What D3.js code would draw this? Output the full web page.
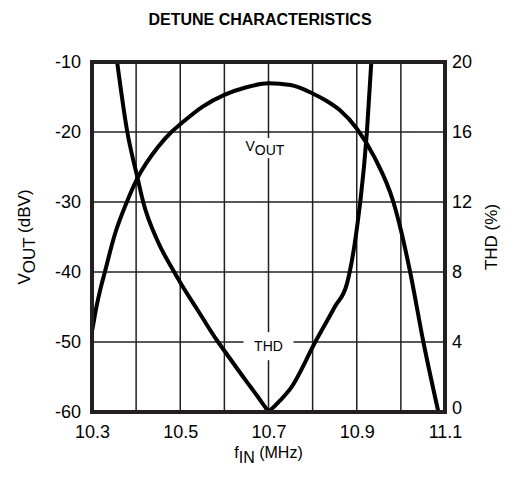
<!DOCTYPE html>
<html>
<head>
<meta charset="utf-8">
<script src="https://cdn.jsdelivr.net/npm/d3@7"></script>
<style>
  body { margin: 0; background: #fff; }
  svg { display: block; font-family: "Liberation Sans", Arial, sans-serif; }
</style>
</head>
<body>
<div id="chart"></div>
<script>
// tick labels / grid
const freqTicks = [10.3, 10.5, 10.7, 10.9, 11.1];
const freqGrid = [10.3, 10.4, 10.5, 10.6, 10.7, 10.8, 10.9, 11.0, 11.1];
const voutTicks = [-10, -20, -30, -40, -50, -60];
const thdTicks = [20, 16, 12, 8, 4, 0];

// VOUT curve (dBV)
const voutFreq = [10.300, 10.310, 10.320, 10.330, 10.350, 10.379, 10.403, 10.450, 10.480, 10.500, 10.550, 10.600,
                  10.650, 10.700, 10.750, 10.800, 10.830, 10.862, 10.900, 10.940, 10.983, 11.000, 11.021, 11.051, 11.085];
const voutDbv = [-48.5, -45.0, -42.2, -39.8, -35.0, -30.0, -26.6, -22.1, -20.0, -18.9, -16.4, -14.7,
                 -13.6, -13.05, -13.3, -14.5, -15.5, -16.9, -19.5, -23.6, -30.0, -34.0, -40.0, -50.0, -60.0];

// THD curve (%)
const thdFreq = [10.357, 10.380, 10.403, 10.416, 10.450, 10.484, 10.500, 10.540, 10.583, 10.600, 10.650, 10.675,
                 10.692, 10.700, 10.708, 10.726, 10.750, 10.806, 10.850, 10.878, 10.884, 10.894, 10.904, 10.908,
                 10.923, 10.933];
const thdPct = [20, 16, 13.4, 12, 9.7, 8.1, 7.4, 5.8, 4.1, 3.5, 1.75, 0.9,
                0.3, 0.05, 0.2, 0.65, 1.35, 4, 6.0, 7.35, 8, 9.4, 11.2, 12,
                16, 20];

const margin = {top: 62, right: 75, bottom: 72, left: 92};
const width = 520 - margin.left - margin.right;
const height = 484 - margin.top - margin.bottom;
const ink = "#231f20";

const svg = d3.select("#chart")
    .append("svg")
    .attr("width", 520)
    .attr("height", 484);

const g = svg.append("g")
    .attr("transform", "translate(" + margin.left + "," + margin.top + ")");

const x = d3.scaleLinear().domain([10.3, 11.1]).range([0, width]);
const y1 = d3.scaleLinear().domain([-60, -10]).range([height, 0]);
const y2 = d3.scaleLinear().domain([0, 20]).range([height, 0]);

// title
svg.append("text")
    .attr("x", 260)
    .attr("y", 25)
    .attr("text-anchor", "middle")
    .style("font-size", "16px")
    .style("font-weight", "bold")
    .text("DETUNE CHARACTERISTICS");

// grid
g.selectAll(".vgrid")
    .data(freqGrid)
    .enter().append("line")
    .attr("x1", d => x(d)).attr("x2", d => x(d))
    .attr("y1", 0).attr("y2", height)
    .attr("stroke", ink).attr("stroke-width", 1.5);

g.selectAll(".hgrid")
    .data(voutTicks)
    .enter().append("line")
    .attr("x1", 0).attr("x2", width)
    .attr("y1", d => y1(d)).attr("y2", d => y1(d))
    .attr("stroke", ink).attr("stroke-width", 1.5);

// axes (labels only, the frame is drawn separately)
const xAxis = g.append("g")
    .attr("transform", "translate(0," + height + ")")
    .call(d3.axisBottom(x).tickValues(freqTicks).tickSize(0).tickPadding(13).tickFormat(d3.format(".1f")));
const yAxis = g.append("g")
    .call(d3.axisLeft(y1).tickValues(voutTicks).tickSize(0).tickPadding(11).tickFormat(d => d));
const y2Axis = g.append("g")
    .attr("transform", "translate(" + width + ",0)")
    .call(d3.axisRight(y2).tickValues(thdTicks).tickSize(0).tickPadding(7));

[xAxis, yAxis, y2Axis].forEach(a => {
    a.select(".domain").remove();
    a.selectAll("text")
        .attr("fill", "#000")
        .style("font-family", "Liberation Sans, Arial, sans-serif")
        .style("font-size", "18px");
});
// lowest right label sits a touch higher, clear of the 11.1 label
y2Axis.selectAll(".tick text").filter(d => d === 0).attr("dy", "0.1em");

// curve labels with white boxes
function boxLabel(cx, cy, w, h) {
    g.append("rect")
        .attr("x", cx - w / 2).attr("y", cy - h / 2)
        .attr("width", w).attr("height", h)
        .attr("fill", "#fff");
}
boxLabel(x(10.7), y1(-22.3), 52, 20);
const vl = g.append("text")
    .attr("x", x(10.7) - 23)
    .attr("y", y1(-22.3) + 3)
    .style("font-size", "14px");
vl.append("tspan").text("V");
vl.append("tspan").attr("dy", 4).text("OUT");

boxLabel(x(10.7), y1(-50.6), 50, 28);
g.append("text")
    .attr("x", x(10.7))
    .attr("y", y1(-50.6) + 5)
    .attr("text-anchor", "middle")
    .style("font-size", "14px")
    .text("THD");

// curves
g.append("clipPath").attr("id", "plotclip")
    .append("rect").attr("width", width).attr("height", height);

const voutData = voutFreq.map((f, i) => ({f: f, v: voutDbv[i]}));
const thdData = thdFreq.map((f, i) => ({f: f, v: thdPct[i]}));

g.append("path")
    .datum(voutData)
    .attr("clip-path", "url(#plotclip)")
    .attr("fill", "none")
    .attr("stroke", "#000")
    .attr("stroke-width", 4)
    .attr("d", d3.line().curve(d3.curveMonotoneX)
        .x(d => x(d.f))
        .y(d => y1(d.v)));

g.append("path")
    .datum(thdData)
    .attr("clip-path", "url(#plotclip)")
    .attr("fill", "none")
    .attr("stroke", "#000")
    .attr("stroke-width", 4)
    .attr("d", d3.line().curve(d3.curveMonotoneX)
        .x(d => x(d.f))
        .y(d => y2(d.v)));

// frame
g.append("rect")
    .attr("width", width).attr("height", height)
    .attr("fill", "none")
    .attr("stroke", ink)
    .attr("stroke-width", 4);

// axis titles
const yt = svg.append("text")
    .attr("transform", "translate(30," + (margin.top + height / 2) + ") rotate(-90)")
    .attr("text-anchor", "middle")
    .style("font-size", "17px");
yt.append("tspan").text("V");
yt.append("tspan").attr("dy", 5).text("OUT");
yt.append("tspan").attr("dy", -5).text(" (dBV)");

svg.append("text")
    .attr("transform", "translate(497," + (margin.top + height / 2) + ") rotate(-90)")
    .attr("text-anchor", "middle")
    .style("font-size", "17px")
    .text("THD (%)");

const xt = svg.append("text")
    .attr("x", margin.left + width / 2)
    .attr("y", 458)
    .attr("text-anchor", "middle")
    .style("font-size", "16px");
xt.append("tspan").text("f");
xt.append("tspan").attr("dy", 5).text("IN");
xt.append("tspan").attr("dy", -5).text(" (MHz)");
</script>
</body>
</html>
